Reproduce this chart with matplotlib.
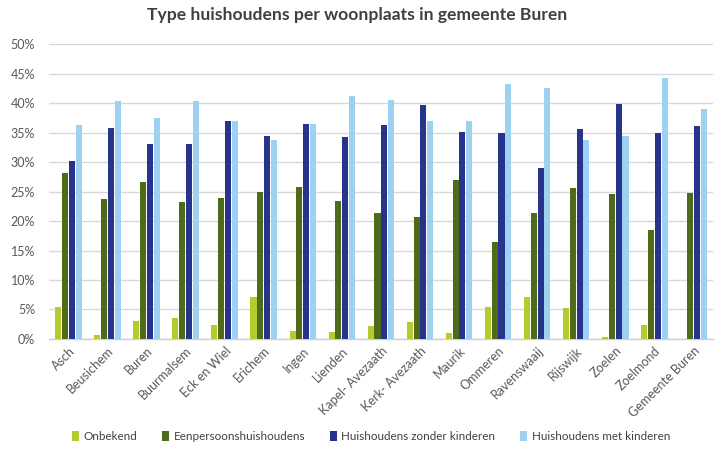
import matplotlib
matplotlib.use("Agg")
import matplotlib.pyplot as plt
import numpy as np
from matplotlib.ticker import FuncFormatter, MultipleLocator
from matplotlib.patches import Patch

plt.rcParams['font.family'] = ['Lato', 'DejaVu Sans']

categories = ["Asch", "Beusichem", "Buren", "Buurmalsem", "Eck en Wiel", "Erichem",
              "Ingen", "Lienden", "Kapel- Avezaath", "Kerk- Avezaath", "Maurik",
              "Ommeren", "Ravenswaaij", "Rijswijk", "Zoelen", "Zoelmond", "Gemeente Buren"]

onbekend = [5.5, 0.6, 3.1, 3.5, 2.4, 7.1, 1.4, 1.2, 2.2, 2.9, 1.0, 5.4, 7.1, 5.2, 0.3, 2.4, 0.0]
eenpersoons = [28.1, 23.7, 26.7, 23.2, 23.9, 24.9, 25.8, 23.4, 21.3, 20.6, 26.9, 16.4, 21.3, 25.6, 24.6, 18.5, 24.8]
zonder_kinderen = [30.2, 35.8, 33.0, 33.0, 37.0, 34.4, 36.5, 34.2, 36.3, 39.6, 35.1, 34.9, 29.0, 35.6, 39.9, 34.9, 36.1]
met_kinderen = [36.3, 40.3, 37.4, 40.3, 37.0, 33.7, 36.5, 41.2, 40.5, 37.0, 37.0, 43.3, 42.6, 33.7, 34.4, 44.2, 39.0]

series_names = ["Onbekend", "Eenpersoonshuishoudens", "Huishoudens zonder kinderen", "Huishoudens met kinderen"]
colors = ["#b3cb2d", "#4e6b19", "#27348b", "#9dd0f1"]
series = [onbekend, eenpersoons, zonder_kinderen, met_kinderen]

fig = plt.figure(figsize=(7.15, 4.5), dpi=100)
n = len(categories)
ax = fig.add_axes([0.0685, 0.2467, 0.9285, 0.6553])

x = np.arange(n)
bw = 0.155
step = 0.175
for i, (vals, col) in enumerate(zip(series, colors)):
    ax.bar(x + (i - 1.5) * step, vals, width=bw, color=col, zorder=3)

ax.set_xlim(-0.5, n - 0.5)
ax.set_ylim(0, 50)
ax.yaxis.set_major_locator(MultipleLocator(5))
ax.yaxis.set_major_formatter(FuncFormatter(lambda v, p: f"{int(round(v))}%"))
ax.grid(axis='y', color='#d9d9d9', linewidth=1, zorder=0)
for s in ['top', 'right', 'left']:
    ax.spines[s].set_visible(False)
ax.spines['bottom'].set_color('#d0d0d0')
ax.spines['bottom'].set_linewidth(1)
ax.tick_params(axis='y', length=0, labelsize=9, labelcolor='#595959', pad=10)
ax.tick_params(axis='x', length=0, labelsize=9, labelcolor='#595959', pad=4)
ax.set_xticks(x)
ax.set_xticklabels(categories, rotation=45, ha='right', rotation_mode='anchor')

fig.text(0.5, 0.967, "Type huishoudens per woonplaats in gemeente Buren", ha='center', va='center',
         fontsize=12.6, fontweight='bold', color='#404040')

handles = [Patch(facecolor=c, edgecolor='none') for c in colors]
fig.legend(handles, series_names, loc='center', bbox_to_anchor=(0.519, 0.03), ncol=4,
           frameon=False, fontsize=8.4, labelcolor='#404040', handlelength=0.6, handleheight=0.9,
           handletextpad=0.4, columnspacing=2.1)

fig.savefig("out.png", dpi=100)
